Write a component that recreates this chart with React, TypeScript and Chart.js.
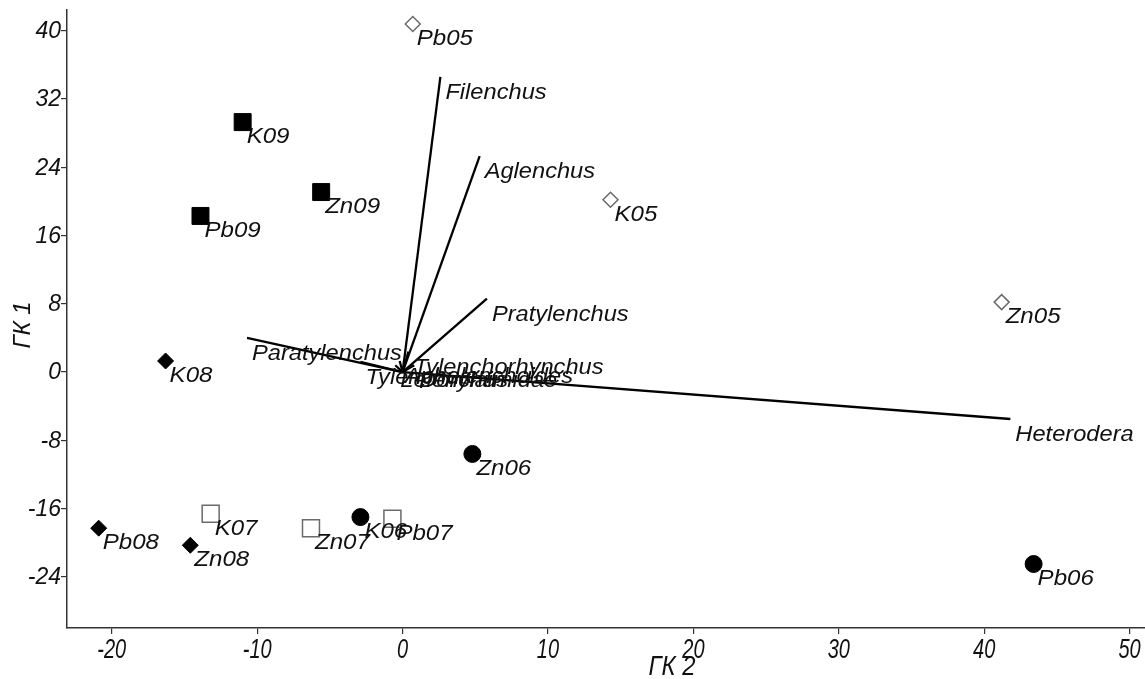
import { useEffect, useRef } from 'react';
import { Chart, registerables } from 'chart.js';

Chart.register(...registerables);

// Axis ticks
const xTicks = [-20, -10, 0, 10, 20, 30, 40, 50];
const yTicks = [-24, -16, -8, 0, 8, 16, 24, 32, 40];
const xTitle = 'ГК 2';
const yTitle = 'ГК 1';

// Sample scores (ГК 2, ГК 1)
const names05 = ['Pb05', 'K05', 'Zn05'];
const x05 = [0.7, 14.3, 41.2];
const y05 = [40.8, 20.2, 8.2];

const names06 = ['K06', 'Zn06', 'Pb06'];
const x06 = [-2.9, 4.8, 43.4];
const y06 = [-17.0, -9.6, -22.5];

const names07 = ['K07', 'Zn07', 'Pb07'];
const x07 = [-13.2, -6.3, -0.7];
const y07 = [-16.6, -18.3, -17.2];

const names08 = ['K08', 'Pb08', 'Zn08'];
const x08 = [-16.3, -20.9, -14.6];
const y08 = [1.3, -18.3, -20.3];

const names09 = ['K09', 'Zn09', 'Pb09'];
const x09 = [-11.0, -5.6, -13.9];
const y09 = [29.3, 21.1, 18.3];

// Taxon vectors (ГК 2, ГК 1)
const vectorNames = ['Filenchus', 'Aglenchus', 'Pratylenchus', 'Paratylenchus', 'Heterodera', 'Tylenchorhynchus', 'Tylenchus', 'Aphelenchoides', 'Lelenchus', 'Dorylaimidae'];
const vectorX = [2.6, 5.3, 5.8, -10.7, 41.8, 0.4, -2.9, -0.2, -0.5, 0.8];
const vectorY = [34.6, 25.3, 8.6, 4.0, -5.5, 2.4, 1.2, 1.3, 0.8, 0.8];

const FONT = '"Liberation Sans", Arial, sans-serif';

function pts(xs: number[], ys: number[]) {
  return xs.map((x, i) => ({ x, y: ys[i] }));
}

const pointGroups = [
  { names: names05, data: pts(x05, y05), style: 'rectRot', radius: 7.5, fill: '#ffffff', stroke: '#6a6a6a', bw: 1.5 },
  { names: names06, data: pts(x06, y06), style: 'circle', radius: 8.5, fill: '#000000', stroke: '#000000', bw: 1 },
  { names: names07, data: pts(x07, y07), style: 'rect', radius: 12, fill: '#ffffff', stroke: '#6a6a6a', bw: 1.5 },
  { names: names08, data: pts(x08, y08), style: 'rectRot', radius: 8, fill: '#000000', stroke: '#000000', bw: 1 },
  { names: names09, data: pts(x09, y09), style: 'rect', radius: 12, fill: '#000000', stroke: '#000000', bw: 1 },
];

function drawStretched(ctx: CanvasRenderingContext2D, text: string, x: number, y: number, sx: number) {
  ctx.save();
  ctx.translate(x, y);
  ctx.scale(sx, 1);
  ctx.fillText(text, 0, 0);
  ctx.restore();
}

const labelPlugin = {
  id: 'customLabels',
  afterDraw(chart: any) {
    const ctx: CanvasRenderingContext2D = chart.ctx;
    const xs = chart.scales.x;
    const ys = chart.scales.y;
    ctx.save();
    ctx.fillStyle = '#111111';

    // y tick labels
    ctx.font = `italic 23px ${FONT}`;
    ctx.textAlign = 'right';
    ctx.textBaseline = 'middle';
    ys.ticks.forEach((t: any) => {
      ctx.fillText(String(t.value), 61, ys.getPixelForValue(t.value) + 1);
    });

    // x tick labels
    ctx.font = `italic 27px ${FONT}`;
    ctx.textAlign = 'center';
    ctx.textBaseline = 'middle';
    xs.ticks.forEach((t: any) => {
      drawStretched(ctx, String(t.value), xs.getPixelForValue(t.value), 650, 0.74);
    });

    // axis titles
    ctx.font = `italic 28px ${FONT}`;
    drawStretched(ctx, xTitle, 672, 667, 0.85);
    ctx.save();
    ctx.translate(23, 325);
    ctx.rotate(-Math.PI / 2);
    ctx.font = `italic 24px ${FONT}`;
    ctx.textAlign = 'center';
    ctx.textBaseline = 'middle';
    ctx.fillText(yTitle, 0, 0);
    ctx.restore();

    // point labels & vector labels
    ctx.font = `italic 21.5px ${FONT}`;
    ctx.textAlign = 'left';
    ctx.textBaseline = 'alphabetic';
    pointGroups.forEach((g) => {
      g.data.forEach((p, i) => {
        drawStretched(ctx, g.names[i], xs.getPixelForValue(p.x) + 4, ys.getPixelForValue(p.y) + 21, 1.12);
      });
    });
    vectorNames.forEach((n, i) => {
      drawStretched(ctx, n, xs.getPixelForValue(vectorX[i]) + 5, ys.getPixelForValue(vectorY[i]) + 22, 1.1);
    });
    ctx.restore();
  },
};

export default function App() {
  const ref = useRef<HTMLCanvasElement>(null);
  useEffect(() => {
    if (!ref.current) return;
    const vectorSets = vectorNames.map((n, i) => ({
      type: 'scatter' as const,
      label: n,
      data: [{ x: 0, y: 0 }, { x: vectorX[i], y: vectorY[i] }],
      showLine: true,
      borderColor: '#000000',
      borderWidth: 2.3,
      pointRadius: 0,
      fill: false,
      order: 2,
    }));
    const pointSets = pointGroups.map((g) => ({
      type: 'scatter' as const,
      label: g.names.join(','),
      data: g.data,
      pointStyle: g.style,
      pointRadius: g.radius,
      pointHoverRadius: g.radius,
      backgroundColor: g.fill,
      borderColor: g.stroke,
      pointBorderWidth: g.bw,
      borderWidth: g.bw,
      showLine: false,
      order: 1,
    }));
    const chart = new Chart(ref.current, {
      type: 'scatter',
      data: { datasets: [...vectorSets, ...pointSets] as any },
      options: {
        animation: false,
        responsive: false,
        devicePixelRatio: 1,
        events: [],
        layout: { padding: { top: 10, right: 0, left: 0, bottom: 0 }, autoPadding: false },
        plugins: { legend: { display: false }, tooltip: { enabled: false } },
        scales: {
          x: {
            type: 'linear',
            min: -23.08,
            max: 51.06,
            afterBuildTicks: (s: any) => { s.ticks = xTicks.map((v) => ({ value: v })); },
            afterFit: (s: any) => { s.height = 51; },
            ticks: { display: false },
            grid: { drawOnChartArea: false, drawTicks: true, tickLength: 6, color: '#333', lineWidth: 1.2 },
            border: { display: true, color: '#333', width: 1.5 },
          },
          y: {
            type: 'linear',
            min: -30.0,
            max: 42.44,
            afterBuildTicks: (s: any) => { s.ticks = yTicks.map((v) => ({ value: v })); },
            afterFit: (s: any) => { s.width = 67; },
            ticks: { display: false },
            grid: { drawOnChartArea: false, drawTicks: true, tickLength: 6, color: '#333', lineWidth: 1.2 },
            border: { display: true, color: '#333', width: 1.5 },
          },
        },
      },
      plugins: [labelPlugin],
    });
    return () => chart.destroy();
  }, []);
  return (
    <div style={{ position: 'absolute', left: 0, top: 0, width: 1145, height: 679, background: '#fff' }}>
      <canvas ref={ref} width={1145} height={679} style={{ display: 'block' }} />
    </div>
  );
}
